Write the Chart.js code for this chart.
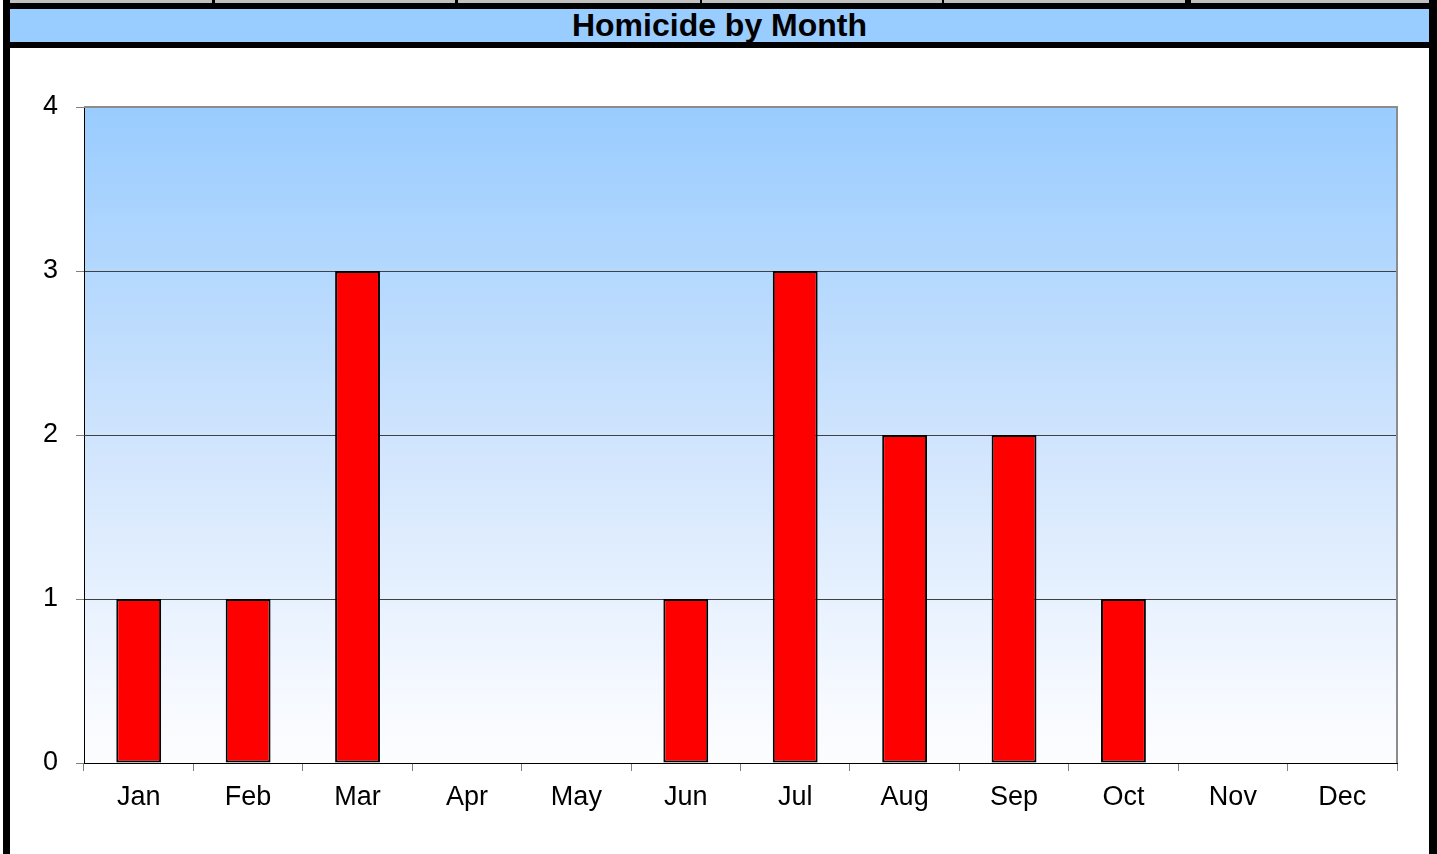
<!DOCTYPE html>
<html>
<head>
<meta charset="utf-8">
<title>Homicide by Month</title>
<script src="https://cdn.jsdelivr.net/npm/chart.js@4.4.1/dist/chart.umd.min.js"></script>
<style>
    body { margin: 0; background: #fff; font-family: "Liberation Sans", Arial, sans-serif; }
    #pagina { position: relative; width: 1437px; height: 854px; overflow: hidden; }
    .bloco { position: absolute; }
    #titulo {
        position: absolute; left: 10px; top: 9px; width: 1419px; height: 33px;
        line-height: 33px; text-align: center; font-weight: bold; font-size: 32px; color: #000;
    }
    #myChart { position: absolute; left: 10px; top: 48px; }
</style>
</head>
<body>
<div id="pagina">
    <div class="bloco" style="left:10px;top:0;width:1419px;height:3px;background:#c0c0c0"></div>
    <div class="bloco" style="left:212px;top:0;width:3px;height:3px;background:#000"></div>
    <div class="bloco" style="left:455px;top:0;width:3px;height:3px;background:#000"></div>
    <div class="bloco" style="left:700px;top:0;width:2px;height:3px;background:#000"></div>
    <div class="bloco" style="left:942px;top:0;width:2px;height:3px;background:#000"></div>
    <div class="bloco" style="left:1185px;top:0;width:6px;height:3px;background:#000"></div>
    <div class="bloco" style="left:10px;top:3px;width:1419px;height:6px;background:#000"></div>
    <div class="bloco" style="left:10px;top:9px;width:1419px;height:33px;background:#99ccff"></div>
    <div class="bloco" style="left:10px;top:42px;width:1419px;height:6px;background:#000"></div>
    <div class="bloco" style="left:3px;top:0;width:7px;height:854px;background:#000"></div>
    <div class="bloco" style="left:1429px;top:0;width:8px;height:854px;background:#000"></div>
    <div id="titulo">Homicide by Month</div>
    <canvas id="myChart" width="1419" height="806"></canvas>
</div>
<script>
let meses = ['Jan', 'Feb', 'Mar', 'Apr', 'May', 'Jun', 'Jul', 'Aug', 'Sep', 'Oct', 'Nov', 'Dec']
let homicidios = [1, 1, 3, 0, 0, 1, 3, 2, 2, 1, 0, 0]
let eixoY = [0, 1, 2, 3, 4]

// fundo em degrade e moldura cinza do grafico
const fundoPlot = {
    id: 'fundoPlot',
    beforeDraw(chart) {
        const ctx = chart.ctx
        const area = chart.chartArea
        const grad = ctx.createLinearGradient(0, area.top, 0, area.bottom)
        grad.addColorStop(0, '#99ccff')
        grad.addColorStop(0.5, '#cfe4fd')
        grad.addColorStop(0.9, '#f6f9ff')
        grad.addColorStop(1, '#fcfdff')
        ctx.save()
        ctx.fillStyle = grad
        ctx.fillRect(area.left, area.top, area.right - area.left, area.bottom - area.top)
        ctx.restore()
    },
    afterDraw(chart) {
        const ctx = chart.ctx
        const area = chart.chartArea
        ctx.save()
        ctx.strokeStyle = '#8c8c8c'
        ctx.lineWidth = 2
        ctx.beginPath()
        ctx.moveTo(area.left, area.top)
        ctx.lineTo(area.right, area.top)
        ctx.lineTo(area.right, area.bottom)
        ctx.stroke()
        ctx.restore()
    }
}

function plotarGrafico() {
    const data = {
        labels: meses,
        datasets: [
            {
                label: 'Homicide',
                data: homicidios,
                backgroundColor: '#ff0000',
                borderColor: '#000000',
                borderWidth: 2,
                borderSkipped: false,
                categoryPercentage: 1,
                barPercentage: 0.41,
            },
        ],
    }
    const config = {
        type: 'bar',
        data,
        plugins: [fundoPlot],
        options: {
            responsive: false,
            animation: false,
            devicePixelRatio: 1,
            layout: {
                padding: { left: 0, right: 32, top: 59, bottom: 0 }
            },
            plugins: {
                legend: { display: false },
                tooltip: { enabled: false },
            },
            scales: {
                x: {
                    offset: true,
                    grid: {
                        offset: true,
                        drawOnChartArea: false,
                        tickLength: 8,
                        tickColor: '#808080',
                    },
                    border: { color: '#000000', width: 1 },
                    ticks: {
                        color: '#000000',
                        padding: 10,
                        font: { family: 'Liberation Sans', size: 27 },
                    },
                    afterFit: (escala) => { escala.height = 91 },
                },
                y: {
                    min: eixoY[0],
                    max: eixoY[eixoY.length - 1],
                    grid: {
                        color: '#404040',
                        lineWidth: 1,
                        tickLength: 8,
                        tickColor: '#808080',
                    },
                    border: { color: '#000000', width: 1 },
                    ticks: {
                        stepSize: 1,
                        color: '#000000',
                        padding: 18,
                        font: { family: 'Liberation Sans', size: 27 },
                    },
                    afterBuildTicks: (escala) => {
                        escala.ticks = eixoY.map((v) => ({ value: v }))
                    },
                    afterFit: (escala) => { escala.width = 74 },
                },
            },
        },
    }
    const myChart = new Chart(
        document.getElementById('myChart').getContext('2d'),
        config
    );
    return myChart
}

plotarGrafico()
</script>
</body>
</html>
